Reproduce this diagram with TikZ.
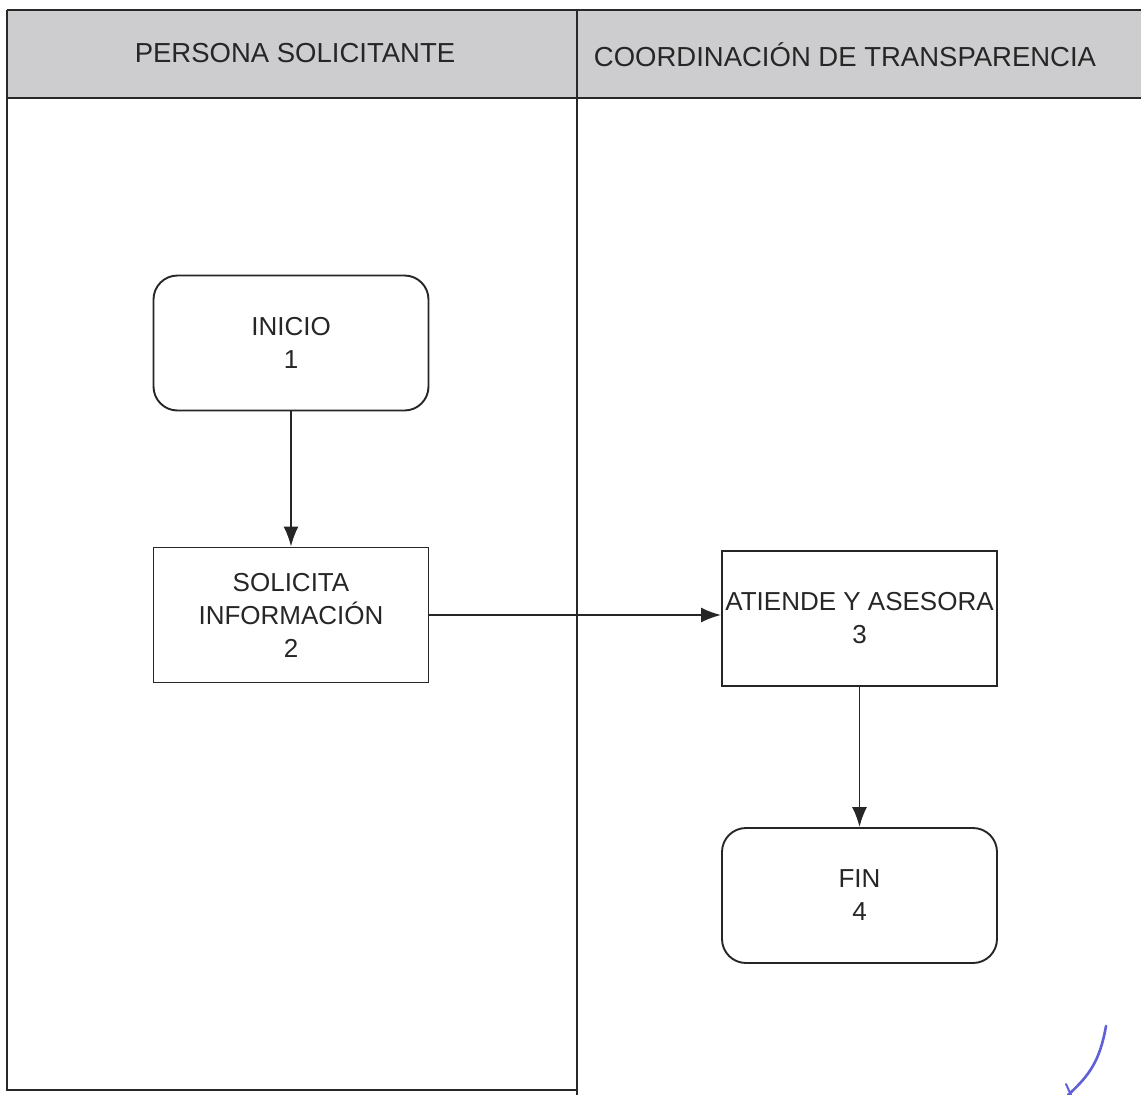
\documentclass[tikz,border=0pt]{standalone}
\usepackage{fontspec}
\setmainfont{Liberation Sans}
\usetikzlibrary{arrows.meta}
\definecolor{hdrgray}{RGB}{205,205,207}
\definecolor{framecol}{RGB}{40,40,40}
\definecolor{inkblue}{RGB}{95,95,215}
\begin{document}
\begin{tikzpicture}[x=1pt,y=-1pt,
  frameline/.style={draw=framecol,line width=2.8pt},
  hdrtext/.style={font=\fontsize{27.5}{30}\selectfont,text=black!85},
  procbox/.style={draw=black!85,line width=1.9pt,minimum width=275pt,minimum height=135pt,inner sep=0pt,
    align=center,font=\fontsize{26}{33}\selectfont,text=black!85},
  termbox/.style={procbox,rounded corners=24pt},
  flow/.style={draw=black!85,line width=1.9pt,-{Latex[length=20pt,width=15pt]}}]
\useasboundingbox (0,0) rectangle (1141,1095);
% header
\fill[hdrgray] (7,10) rectangle (1141,98);
\draw[frameline] (7,10) -- (1141,10);
\draw[frameline] (7,98) -- (1141,98);
\draw[frameline] (7,10) -- (7,1090) -- (577,1090);
\draw[frameline] (577,10) -- (577,1095);
\node[hdrtext] (h1) at (295,53) {PERSONA SOLICITANTE};
\node[hdrtext] (h2) at (845,55) {COORDINACIÓN DE TRANSPARENCIA};
% nodes
\node[termbox] (n1) at (291,343) {INICIO\\1};
\node[procbox] (n2) at (291,615) {SOLICITA\\INFORMACIÓN\\2};
\node[procbox] (n3) at (859.5,618.5) {ATIENDE Y ASESORA\\3};
\node[termbox] (n4) at (859.5,895.5) {FIN\\4};
% connectors
\draw[flow] (n1.south) -- (n2.north);
\draw[flow] (n2.east) -- (n3.west |- n2.east);
\draw[flow] (n3.south) -- (n4.north);
% handwritten mark
\draw[inkblue,line width=2.6pt,line cap=round] (1106,1026) .. controls (1100,1060) and (1090,1075) .. (1068,1095);
\draw[inkblue,line width=2pt,line cap=round] (1066,1084) -- (1071,1095);
\end{tikzpicture}
\end{document}
